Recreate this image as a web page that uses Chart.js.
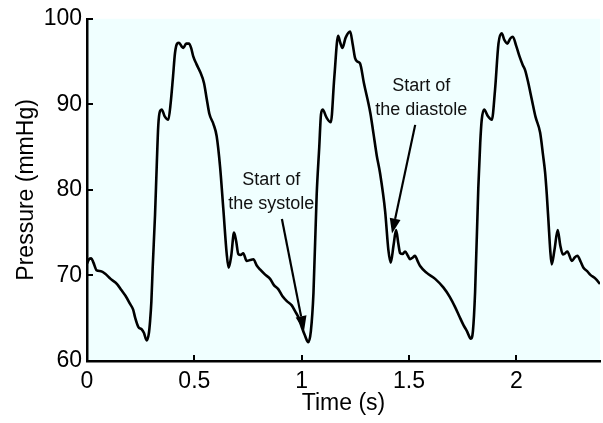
<!DOCTYPE html>
<html>
<head>
<meta charset="utf-8">
<script src="https://cdn.jsdelivr.net/npm/chart.js@4/dist/chart.umd.min.js"></script>
<style>
  html, body { margin: 0; padding: 0; background: #fff; }
  #wrap { width: 603px; height: 423px; }
</style>
</head>
<body>
<div id="wrap"><canvas id="pressurechart" width="603" height="423"></canvas></div>
<script>
// time (s) and arterial pressure (mmHg)
const timeS = [
  0.000, 0.010, 0.020, 0.030, 0.045, 0.065, 0.085, 0.110, 0.140, 0.160,
  0.180, 0.200, 0.215, 0.224, 0.239, 0.255, 0.265, 0.278, 0.288, 0.294,
  0.300, 0.306, 0.317, 0.325, 0.332, 0.340, 0.348, 0.362, 0.379, 0.390,
  0.400, 0.410, 0.420, 0.429, 0.440, 0.449, 0.462, 0.475, 0.485, 0.495,
  0.510, 0.527, 0.545, 0.558, 0.570, 0.589, 0.604, 0.620, 0.635, 0.651,
  0.660, 0.672, 0.685, 0.695, 0.705, 0.716, 0.728, 0.744, 0.760, 0.775,
  0.790, 0.806, 0.830, 0.853, 0.870, 0.891, 0.910, 0.931, 0.954, 0.970,
  0.985, 1.000, 1.015, 1.031, 1.043, 1.055, 1.070, 1.082, 1.090, 1.098,
  1.115, 1.136, 1.152, 1.170, 1.180, 1.190, 1.205, 1.226, 1.238, 1.249,
  1.260, 1.272, 1.290, 1.320, 1.334, 1.350, 1.365, 1.389, 1.404, 1.415,
  1.428, 1.440, 1.450, 1.459, 1.470, 1.482, 1.495, 1.505, 1.518, 1.528,
  1.540, 1.552, 1.583, 1.622, 1.660, 1.690, 1.715, 1.735, 1.754, 1.770,
  1.788, 1.798, 1.808, 1.823, 1.832, 1.839, 1.850, 1.868, 1.886, 1.901,
  1.917, 1.932, 1.945, 1.958, 1.972, 1.984, 2.000, 2.015, 2.030, 2.041,
  2.056, 2.072, 2.090, 2.111, 2.125, 2.134, 2.142, 2.150, 2.158, 2.165,
  2.178, 2.193, 2.205, 2.217, 2.228, 2.238, 2.259, 2.272, 2.285, 2.300,
  2.313, 2.330, 2.344, 2.370, 2.390
];
const pressure = [
  71.4, 71.9, 72.0, 71.5, 70.6, 70.5, 70.2, 69.6, 69.0, 68.3,
  67.6, 66.7, 66.0, 65.1, 64.0, 63.7, 63.3, 62.4, 63.2, 64.7,
  67.0, 70.9, 77.1, 82.9, 87.5, 89.2, 89.4, 88.6, 88.2, 90.2,
  93.0, 96.0, 97.1, 97.2, 96.8, 96.6, 97.1, 97.1, 96.6, 95.6,
  94.7, 93.8, 92.5, 90.6, 88.9, 87.7, 86.3, 82.7, 77.8, 72.5,
  70.9, 72.3, 75.0, 74.0, 72.5, 72.4, 72.6, 71.7, 71.8, 71.9,
  71.2, 70.7, 70.1, 69.6, 68.9, 68.4, 67.6, 67.0, 66.5, 65.8,
  65.1, 64.0, 63.0, 62.2, 63.5, 67.9, 79.4, 85.0, 88.8, 89.4,
  88.5, 87.9, 93.1, 98.0, 97.2, 96.6, 97.8, 98.5, 97.0, 95.4,
  95.0, 94.8, 92.5, 89.0, 86.7, 84.0, 82.0, 77.5, 73.0, 71.5,
  73.5, 75.3, 73.8, 72.6, 72.5, 72.8, 72.3, 71.9, 72.1, 72.3,
  71.7, 71.1, 70.3, 69.6, 68.6, 67.5, 66.3, 65.2, 64.2, 63.5,
  62.6, 63.5, 68.0, 80.2, 85.5, 88.2, 89.4, 88.6, 88.2, 91.7,
  97.1, 98.3, 97.5, 97.1, 97.7, 97.9, 96.8, 95.6, 94.6, 94.0,
  92.5, 90.6, 88.5, 86.7, 84.0, 82.1, 79.5, 76.3, 73.0, 71.3,
  73.0, 75.3, 73.5, 72.45, 72.6, 72.8, 71.7, 72.1, 72.3, 71.6,
  70.9, 70.5, 70.1, 69.6, 69.0
];
const xTicks = [0, 0.5, 1, 1.5, 2];
const yTicks = [60, 70, 80, 90, 100];

// annotations in data units: text centre, arrow tail, arrow tip
const noteText = [['Start of', 'the systole'], ['Start of', 'the diastole']];
const noteAt = [[0.858, 81.2], [1.557, 92.1]];
const arrowFrom = [[0.908, 76.6], [1.529, 87.6]];
const arrowTo = [[1.011, 63.5], [1.421, 74.9]];

const FONT = "'Liberation Sans', Arial, Helvetica, sans-serif";

const backdrop = {
  id: 'backdrop',
  beforeDraw(chart) {
    const { ctx, chartArea: a } = chart;
    ctx.save();
    ctx.fillStyle = '#f0ffff';
    ctx.fillRect(a.left, a.top, a.right - a.left, a.bottom - a.top);
    ctx.restore();
  }
};

// inward tick marks, like the original figure
const innerTicks = {
  id: 'innerTicks',
  afterDraw(chart) {
    const { ctx, chartArea: a, scales: { x, y } } = chart;
    ctx.save();
    ctx.strokeStyle = '#000';
    ctx.lineWidth = 2;
    xTicks.forEach(v => {
      const px = Math.round(x.getPixelForValue(v));
      ctx.beginPath();
      ctx.moveTo(px, a.bottom);
      ctx.lineTo(px, a.bottom - 6);
      ctx.stroke();
    });
    yTicks.forEach(v => {
      const py = Math.round(y.getPixelForValue(v));
      ctx.beginPath();
      ctx.moveTo(a.left, py);
      ctx.lineTo(a.left + 6, py);
      ctx.stroke();
    });
    ctx.restore();
  }
};

const notes = {
  id: 'notes',
  afterDatasetsDraw(chart) {
    const { ctx, scales: { x, y } } = chart;
    ctx.save();
    ctx.fillStyle = '#111';
    ctx.font = '18px ' + FONT;
    ctx.textAlign = 'center';
    ctx.textBaseline = 'middle';
    noteText.forEach((lines, i) => {
      const cx = x.getPixelForValue(noteAt[i][0]);
      const cy = y.getPixelForValue(noteAt[i][1]);
      lines.forEach((t, j) => ctx.fillText(t, cx, cy + j * 24));
    });
    ctx.strokeStyle = '#000';
    ctx.fillStyle = '#000';
    ctx.lineWidth = 2.2;
    arrowFrom.forEach((f, i) => {
      const x0 = x.getPixelForValue(f[0]), y0 = y.getPixelForValue(f[1]);
      const x1 = x.getPixelForValue(arrowTo[i][0]), y1 = y.getPixelForValue(arrowTo[i][1]);
      const ang = Math.atan2(y1 - y0, x1 - x0);
      const len = 15, half = 5.5;
      const bx = x1 - len * Math.cos(ang), by = y1 - len * Math.sin(ang);
      ctx.beginPath();
      ctx.moveTo(x0, y0);
      ctx.lineTo(bx, by);
      ctx.stroke();
      ctx.beginPath();
      ctx.moveTo(x1, y1);
      ctx.lineTo(bx + half * Math.sin(ang), by - half * Math.cos(ang));
      ctx.lineTo(bx - half * Math.sin(ang), by + half * Math.cos(ang));
      ctx.closePath();
      ctx.fill();
    });
    ctx.restore();
  }
};

const pressuredata = {
  labels: timeS,
  datasets: [{
    label: 'Pressure',
    data: timeS.map((t, i) => ({ x: t, y: pressure[i] })),
    borderColor: '#000',
    borderWidth: 2.6,
    pointRadius: 0,
    fill: false,
    cubicInterpolationMode: 'monotone'
  }]
};

const pressureconfig = {
  type: 'line',
  data: pressuredata,
  options: {
    responsive: false,
    animation: false,
    layout: { padding: { top: 15, right: 3, left: 0, bottom: 0 } },
    plugins: {
      legend: { display: false },
      tooltip: { enabled: false }
    },
    scales: {
      x: {
        type: 'linear',
        min: 0,
        max: 2.39,
        afterFit(scale) { scale.height = 62; },
        afterBuildTicks(scale) { scale.ticks = xTicks.map(v => ({ value: v })); },
        grid: { display: false, drawTicks: false },
        border: { color: '#000', width: 2.5 },
        ticks: {
          color: '#000',
          padding: 7,
          maxRotation: 0,
          autoSkip: false,
          font: { family: FONT, size: 23 },
          callback: v => String(v)
        },
        title: {
          display: true,
          text: 'Time (s)',
          color: '#000',
          font: { family: FONT, size: 23 },
          padding: { top: 0, bottom: 6 }
        }
      },
      y: {
        min: 60,
        max: 100,
        afterFit(scale) { scale.width = 87; },
        afterBuildTicks(scale) { scale.ticks = yTicks.map(v => ({ value: v })); },
        grid: { display: false, drawTicks: false },
        border: { color: '#000', width: 2.5 },
        ticks: {
          color: '#000',
          padding: 5,
          font: { family: FONT, size: 23 }
        },
        title: {
          display: true,
          text: 'Pressure (mmHg)',
          color: '#000',
          font: { family: FONT, size: 23 },
          padding: { top: 13, bottom: 0 }
        }
      }
    }
  },
  plugins: [backdrop, innerTicks, notes]
};

const pressurechart = new Chart(
  document.getElementById('pressurechart'),
  pressureconfig
);
</script>
</body>
</html>
